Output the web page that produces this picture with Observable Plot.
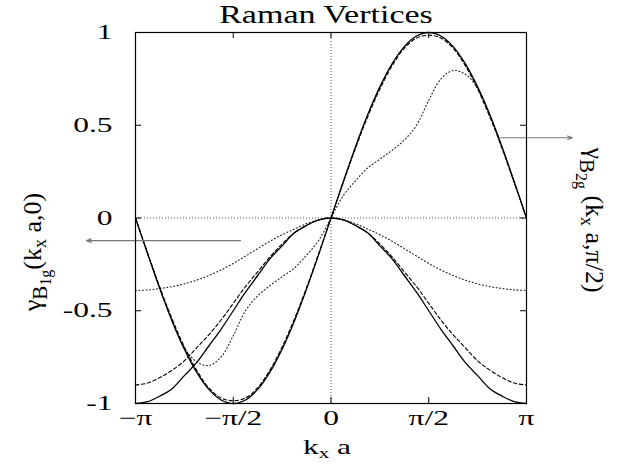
<!DOCTYPE html>
<html>
<head>
<meta charset="utf-8">
<script src="https://cdn.jsdelivr.net/npm/d3@7"></script>
<script src="https://cdn.jsdelivr.net/npm/@observablehq/plot@0.6"></script>
<style>
  body { margin: 0; background: #fff; }
  #chart svg { display: block; }
</style>
</head>
<body>
<div id="chart"></div>
<script>
// sample positions: k in units of pi/16
const kSteps = [-16,-15,-14,-13,-12,-11,-10,-9,-8,-7,-6,-5,-4,-3,-2,-1,0,1,2,3,4,5,6,7,8,9,10,11,12,13,14,15,16];

// B1g vertex gamma(kx a, 0)
const b1gSolid  = [-1.00,-0.99,-0.96,-0.92,-0.85,-0.78,-0.69,-0.60,-0.50,-0.40,-0.31,-0.22,-0.15,-0.08,-0.04,-0.01,0,-0.01,-0.04,-0.08,-0.15,-0.22,-0.31,-0.40,-0.50,-0.60,-0.69,-0.78,-0.85,-0.92,-0.96,-0.99,-1.00];
const b1gDashed = [-0.90,-0.89,-0.86,-0.82,-0.77,-0.70,-0.63,-0.55,-0.46,-0.37,-0.29,-0.21,-0.14,-0.08,-0.04,-0.01,0,-0.01,-0.04,-0.08,-0.14,-0.21,-0.29,-0.37,-0.46,-0.55,-0.63,-0.70,-0.77,-0.82,-0.86,-0.89,-0.90];
const b1gDotted = [-0.39,-0.388,-0.38,-0.37,-0.355,-0.335,-0.31,-0.28,-0.245,-0.205,-0.165,-0.125,-0.09,-0.06,-0.03,-0.01,0,-0.01,-0.03,-0.06,-0.09,-0.125,-0.165,-0.205,-0.245,-0.28,-0.31,-0.335,-0.355,-0.37,-0.38,-0.388,-0.39];

// B2g vertex gamma(kx a, pi/2)
const b2gSolid  = [0,-0.195,-0.383,-0.556,-0.707,-0.831,-0.924,-0.981,-1.0,-0.981,-0.924,-0.831,-0.707,-0.556,-0.383,-0.195,0,0.195,0.383,0.556,0.707,0.831,0.924,0.981,1.0,0.981,0.924,0.831,0.707,0.556,0.383,0.195,0];
const b2gDashed = [0,-0.19,-0.375,-0.545,-0.695,-0.82,-0.915,-0.97,-0.985,-0.97,-0.915,-0.82,-0.695,-0.545,-0.375,-0.19,0,0.19,0.375,0.545,0.695,0.82,0.915,0.97,0.985,0.97,0.915,0.82,0.695,0.545,0.375,0.19,0];
const b2gDotted = [0,-0.19,-0.38,-0.556,-0.70,-0.775,-0.795,-0.75,-0.635,-0.50,-0.42,-0.365,-0.317,-0.27,-0.20,-0.12,0,0.12,0.20,0.27,0.317,0.365,0.42,0.50,0.635,0.75,0.795,0.775,0.70,0.556,0.38,0.19,0];

const xTicks = [-Math.PI, -Math.PI/2, 0, Math.PI/2, Math.PI];
const xTickLabels = ["\u2212\u03c0", "\u2212\u03c0/2", "0", "\u03c0/2", "\u03c0"];
const yTicks = [-1, -0.5, 0, 0.5, 1];
const yTickLabels = ["-1", "-0.5", "0", "0.5", "1"];

// annotation arrows (data units: x in radians)
const arrowNotes = [
  {x1: -0.463*Math.PI, y1: -0.122, x2: -1.251*Math.PI, y2: -0.122},
  {x1: 0.867*Math.PI, y1: 0.433, x2: 1.235*Math.PI, y2: 0.433}
];

const toRows = (vals) => kSteps.map((k, i) => ({x: k*Math.PI/16, y: vals[i]}));

const W = 626, H = 464, mL = 135, mR = 100, mT = 32, mB = 61;
const pw = W - mL - mR, ph = H - mT - mB;

const lbl = (ticks, labels) => d => labels[ticks.findIndex(t => Math.abs(t - d) < 1e-9)];

const solid = {stroke: "black", strokeWidth: 1.3, curve: "catmull-rom"};
const dashed = {stroke: "black", strokeWidth: 1.1, strokeDasharray: "3.5,2.5", curve: "catmull-rom"};
const dotted = {stroke: "#222", strokeWidth: 1.1, strokeDasharray: "1,2.5", curve: "catmull-rom"};

const svg = Plot.plot({
  width: W, height: H,
  marginLeft: mL, marginRight: mR, marginTop: mT, marginBottom: mB,
  style: {fontFamily: "'Liberation Serif', serif", fontSize: "21px", color: "black", background: "white"},
  x: {domain: [-Math.PI, Math.PI]},
  y: {domain: [-1, 1]},
  marks: [
    Plot.ruleY([0], {stroke: "#555", strokeWidth: 1, strokeDasharray: "1,2"}),
    Plot.ruleX([0], {stroke: "#555", strokeWidth: 1, strokeDasharray: "1,2"}),
    Plot.line(toRows(b1gDotted), {x: "x", y: "y", ...dotted}),
    Plot.line(toRows(b2gDotted), {x: "x", y: "y", ...dotted}),
    Plot.line(toRows(b1gDashed), {x: "x", y: "y", ...dashed}),
    Plot.line(toRows(b2gDashed), {x: "x", y: "y", ...dashed}),
    Plot.line(toRows(b1gSolid), {x: "x", y: "y", ...solid}),
    Plot.line(toRows(b2gSolid), {x: "x", y: "y", ...solid}),
    Plot.tickX(xTicks, {x: d => d, insetTop: ph - 6, stroke: "black"}),
    Plot.tickX(xTicks, {x: d => d, insetBottom: ph - 6, stroke: "black"}),
    Plot.tickY(yTicks, {y: d => d, insetRight: pw - 6, stroke: "black"}),
    Plot.tickY(yTicks, {y: d => d, insetLeft: pw - 6, stroke: "black"}),
    Plot.arrow(arrowNotes, {x1: "x1", y1: "y1", x2: "x2", y2: "y2", stroke: "#777", strokeWidth: 1.1, headLength: 7, headAngle: 40}),
    Plot.frame({stroke: "black", strokeWidth: 1.2}),
    Plot.axisX({ticks: xTicks, tickFormat: lbl(xTicks, xTickLabels), tickSize: 0, tickPadding: 7, label: null}),
    Plot.axisY({ticks: yTicks, tickFormat: lbl(yTicks, yTickLabels), tickSize: 0, tickPadding: 23, label: null})
  ]
});

// widen tick label glyphs like the reference
d3.select(svg).selectAll("text").each(function() {
  const t = this.getAttribute("transform");
  if (t) this.setAttribute("transform", t + " scale(1.5,1)");
});

const s = d3.select(svg);
// title
s.append("text")
  .attr("transform", "translate(326,23) scale(1.36,1)")
  .attr("text-anchor", "middle")
  .attr("font-size", 25)
  .attr("fill", "black")
  .text("Raman Vertices");

// x label
const xl = s.append("text")
  .attr("transform", "translate(327,454) scale(1.5,1)")
  .attr("text-anchor", "middle")
  .attr("font-size", 21)
  .attr("fill", "black")
  .style("white-space", "pre");
xl.append("tspan").text("k");
xl.append("tspan").attr("font-size", 14).attr("dy", 4).text("x");
xl.append("tspan").attr("dy", -4).text(" a");

// left y label
const yl = s.append("text")
  .attr("transform", "translate(41,252) rotate(-90)")
  .attr("text-anchor", "middle")
  .attr("font-size", 26)
  .attr("fill", "black")
  .style("white-space", "pre");
yl.append("tspan").text("\u03b3");
yl.append("tspan").attr("font-size", 21).attr("dy", 6).text("B");
yl.append("tspan").attr("font-size", 16).attr("dy", 4).text("1g");
yl.append("tspan").attr("dy", -10).text("(k");
yl.append("tspan").attr("font-size", 18).attr("dy", 5).text("x");
yl.append("tspan").attr("dy", -5).text(" a,0)");

// right y label
const yr = s.append("text")
  .attr("transform", "translate(586,220) rotate(90)")
  .attr("text-anchor", "middle")
  .attr("font-size", 26)
  .attr("fill", "black")
  .style("white-space", "pre");
yr.append("tspan").text("\u03b3");
yr.append("tspan").attr("font-size", 21).attr("dy", 6).text("B");
yr.append("tspan").attr("font-size", 16).attr("dy", 4).text("2g");
yr.append("tspan").attr("dy", -10).text(" (k");
yr.append("tspan").attr("font-size", 18).attr("dy", 5).text("x");
yr.append("tspan").attr("dy", -5).text(" a,\u03c0/2)");

document.getElementById("chart").appendChild(svg);
</script>
</body>
</html>
